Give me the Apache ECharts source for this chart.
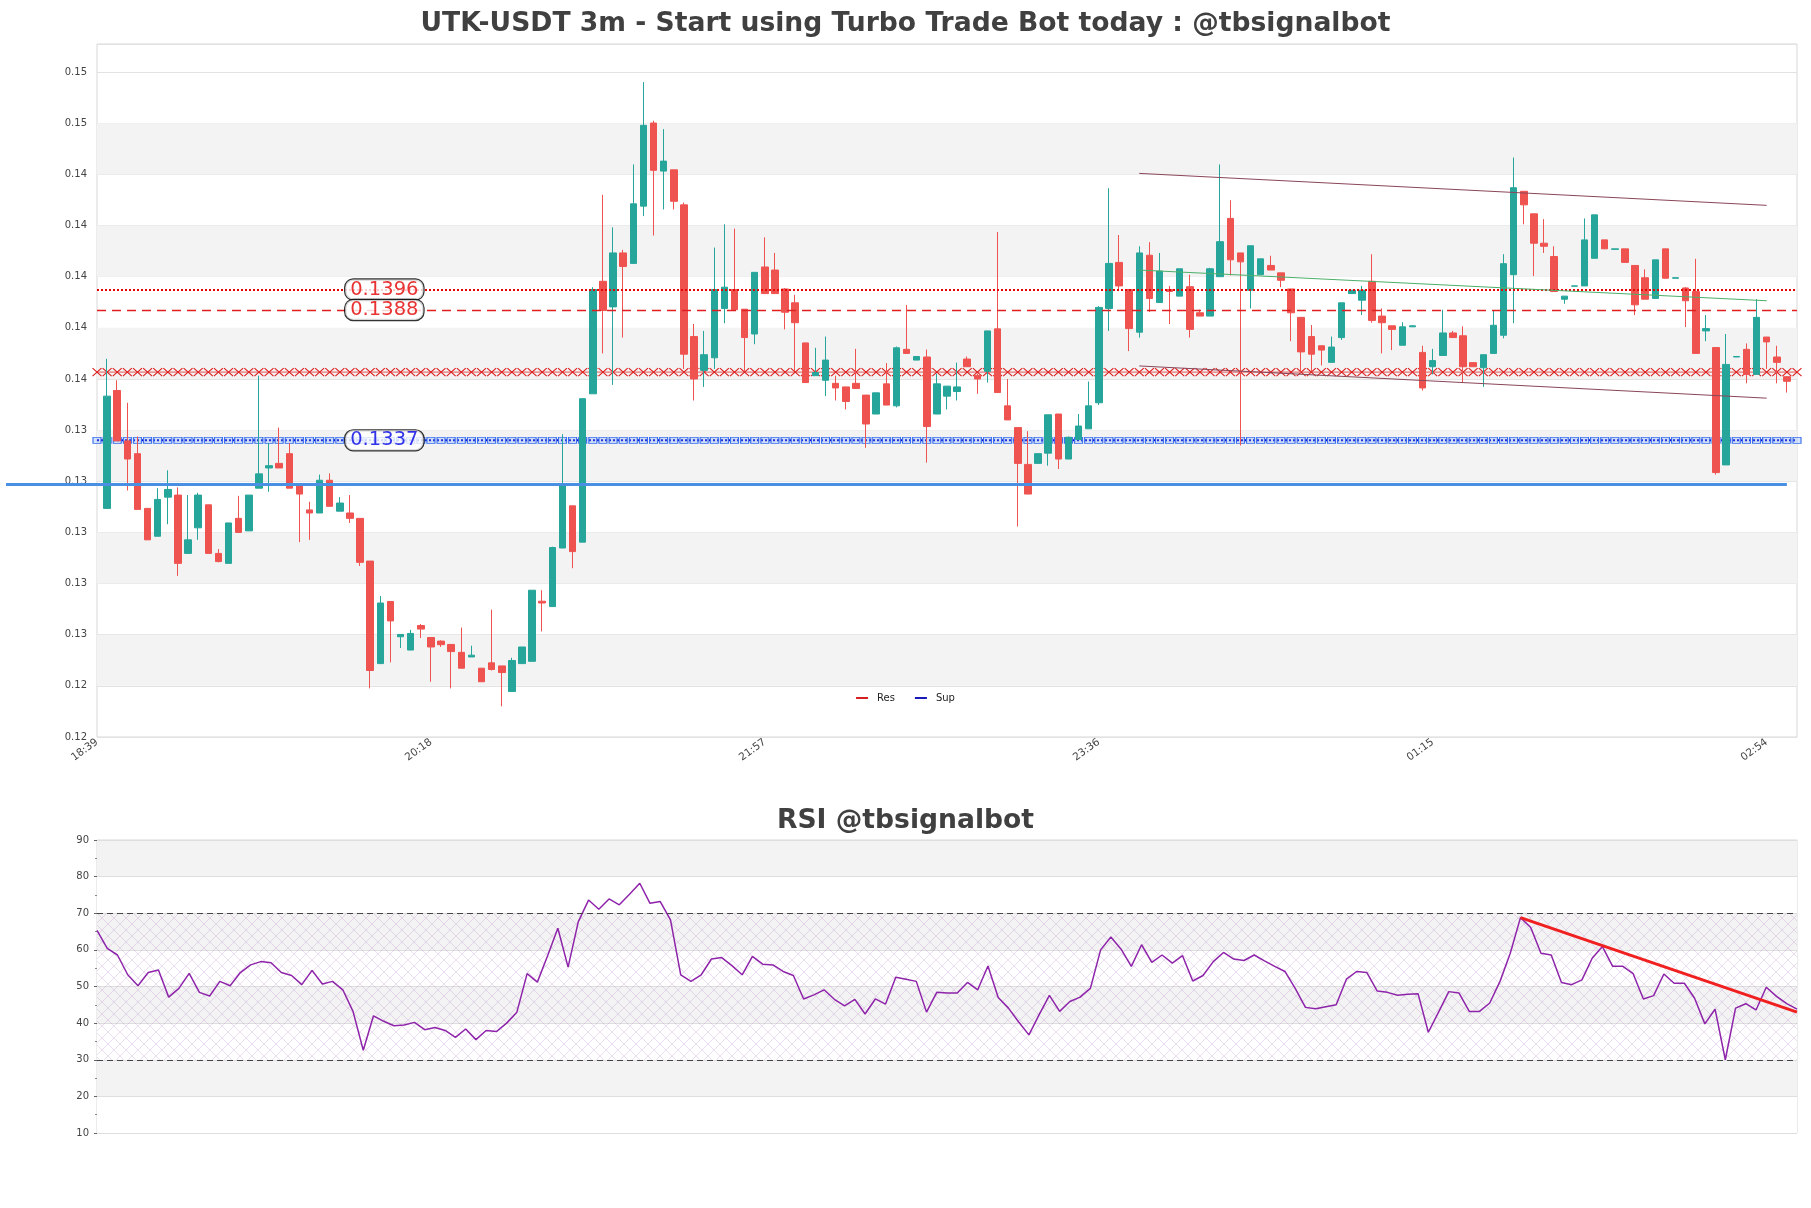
<!DOCTYPE html>
<html><head><meta charset="utf-8">
<script src="https://cdn.jsdelivr.net/npm/echarts@6/dist/echarts.min.js"></script>
<style>html,body{margin:0;padding:0;background:#fff}#c{width:1811px;height:1208px}</style>
</head><body><div id="c"></div>
<script>
// ---------- time axis (3m candles) ----------
const firstTime = '18:39';
const stepMinutes = 3;
const slotCount = 169;
const categories = Array.from({length: slotCount}, (_, k) => {
  const [h, m] = firstTime.split(':').map(Number);
  const t = (h * 60 + m + k * stepMinutes) % 1440;
  return String(Math.floor(t / 60)).padStart(2, '0') + ':' + String(t % 60).padStart(2, '0');
});

// ---------- OHLC (candle n sits on category n) ----------
const opens = [
0.13104,0.13565,0.13368,0.13318,0.13104,0.12995,0.13148,0.13156,0.12928,0.13028,
0.13118,0.12928,0.12889,0.13065,0.13016,0.13183,0.13262,0.13280,0.13318,0.13200,
0.13098,0.13086,0.13214,0.13093,0.13086,0.13065,0.12898,0.12497,0.12740,0.12602,
0.12550,0.12646,0.12599,0.12585,0.12572,0.12541,0.12523,0.12479,0.12500,0.12488,
0.12388,0.12497,0.12506,0.12741,0.12720,0.12949,0.13114,0.12972,0.13552,0.13992,
0.13892,0.14103,0.14062,0.14286,0.14611,0.14423,0.14428,0.14291,0.13776,0.13644,
0.13693,0.13886,0.13960,0.13883,0.13786,0.14048,0.14036,0.13962,0.13908,0.13751,
0.13623,0.13605,0.13593,0.13579,0.13593,0.13547,0.13473,0.13591,0.13505,0.13726,
0.13684,0.13696,0.13473,0.13543,0.13561,0.13688,0.13624,0.13640,0.13806,0.13505,
0.13420,0.13276,0.13280,0.13320,0.13473,0.13297,0.13373,0.13415,0.13517,0.13886,
0.14066,0.13960,0.13793,0.14094,0.13909,0.13960,0.13934,0.13971,0.13869,0.13856,
0.14010,0.14238,0.14103,0.13957,0.14018,0.14054,0.14025,0.13962,0.13851,0.13776,
0.13740,0.13675,0.13772,0.13944,0.13918,0.13992,0.13856,0.13818,0.13742,0.13814,
0.13714,0.13658,0.13702,0.13790,0.13779,0.13674,0.13654,0.13710,0.13781,0.14018,
0.14344,0.14256,0.14141,0.14089,0.13922,0.13973,0.13974,0.14082,0.14154,0.14117,
0.14119,0.14054,0.14006,0.13925,0.14119,0.14004,0.13966,0.13952,0.13798,0.13733,
0.13274,0.13696,0.13726,0.13628,0.13774,0.13696,0.13619];
const closes = [
0.13543,0.13368,0.13297,0.13100,0.12981,0.13139,0.13178,0.12889,0.12981,0.13156,
0.12928,0.12896,0.13047,0.13010,0.13156,0.13239,0.13271,0.13262,0.13183,0.13160,
0.13086,0.13214,0.13112,0.13125,0.13065,0.12893,0.12470,0.12734,0.12664,0.12611,
0.12615,0.12632,0.12562,0.12571,0.12544,0.12479,0.12530,0.12426,0.12474,0.12462,
0.12509,0.12562,0.12784,0.12734,0.12951,0.13195,0.12935,0.13533,0.13960,0.13878,
0.14103,0.14050,0.14295,0.14602,0.14426,0.14462,0.14305,0.13707,0.13610,0.13705,
0.13960,0.13969,0.13881,0.13772,0.14027,0.13944,0.13944,0.13871,0.13830,0.13596,
0.13635,0.13684,0.13575,0.13522,0.13573,0.13434,0.13556,0.13508,0.13732,0.13710,
0.13698,0.13424,0.13591,0.13582,0.13579,0.13658,0.13610,0.13798,0.13557,0.13450,
0.13280,0.13160,0.13318,0.13470,0.13297,0.13382,0.13426,0.13505,0.13890,0.14062,
0.13974,0.13807,0.14103,0.13925,0.14032,0.13952,0.14041,0.13804,0.13856,0.14041,
0.14147,0.14076,0.14068,0.14131,0.14080,0.14036,0.13996,0.13869,0.13716,0.13707,
0.13723,0.13735,0.13908,0.13957,0.13957,0.13839,0.13830,0.13804,0.13814,0.13818,
0.13575,0.13682,0.13790,0.13772,0.13658,0.13658,0.13705,0.13820,0.14061,0.14358,
0.14291,0.14141,0.14129,0.13952,0.13934,0.13974,0.14154,0.14252,0.14119,0.14119,
0.14066,0.13900,0.13922,0.14076,0.14004,0.14006,0.13916,0.13710,0.13807,0.13244,
0.13667,0.13698,0.13628,0.13851,0.13755,0.13675,0.13601];
const lows = [
0.13104,0.13368,0.13174,0.13100,0.12981,0.12995,0.13042,0.12840,0.12928,0.12981,
0.12928,0.12893,0.12889,0.13010,0.13016,0.13183,0.13169,0.13262,0.13183,0.12972,
0.12981,0.13086,0.13112,0.13093,0.13047,0.12879,0.12400,0.12497,0.12502,0.12558,
0.12550,0.12597,0.12426,0.12562,0.12400,0.12479,0.12523,0.12426,0.12470,0.12330,
0.12388,0.12497,0.12506,0.12623,0.12720,0.12949,0.12870,0.12972,0.13552,0.13710,
0.13587,0.13772,0.14062,0.14247,0.14171,0.14273,0.14273,0.13649,0.13526,0.13579,
0.13649,0.13828,0.13881,0.13640,0.13746,0.13944,0.13944,0.13804,0.13640,0.13596,
0.13623,0.13543,0.13526,0.13491,0.13573,0.13341,0.13473,0.13508,0.13499,0.13710,
0.13684,0.13283,0.13473,0.13491,0.13526,0.13658,0.13552,0.13596,0.13557,0.13450,
0.13033,0.13160,0.13280,0.13271,0.13258,0.13297,0.13373,0.13415,0.13508,0.13798,
0.13957,0.13719,0.13772,0.13872,0.13909,0.13825,0.13934,0.13772,0.13856,0.13856,
0.14010,0.14015,0.13350,0.13886,0.14018,0.14036,0.13969,0.13758,0.13631,0.13640,
0.13663,0.13675,0.13763,0.13944,0.13860,0.13830,0.13710,0.13723,0.13742,0.13813,
0.13565,0.13628,0.13702,0.13772,0.13596,0.13658,0.13579,0.13710,0.13769,0.13828,
0.14215,0.14013,0.14103,0.13952,0.13904,0.13973,0.13974,0.14082,0.14119,0.14117,
0.14066,0.13860,0.13922,0.13925,0.14004,0.14004,0.13813,0.13710,0.13758,0.13236,
0.13274,0.13696,0.13593,0.13628,0.13649,0.13593,0.13557];
const highs = [
0.13689,0.13605,0.13517,0.13385,0.13104,0.13183,0.13253,0.13186,0.13156,0.13165,
0.13118,0.12945,0.13047,0.13153,0.13156,0.13623,0.13359,0.13420,0.13359,0.13200,
0.13130,0.13236,0.13241,0.13148,0.13156,0.13065,0.12898,0.12761,0.12740,0.12611,
0.12629,0.12652,0.12599,0.12588,0.12572,0.12638,0.12567,0.12479,0.12708,0.12488,
0.12520,0.12562,0.12784,0.12784,0.12954,0.13394,0.13114,0.13533,0.13969,0.14330,
0.14203,0.14115,0.14449,0.14771,0.14620,0.14587,0.14428,0.14300,0.13825,0.13798,
0.14124,0.14215,0.14198,0.13883,0.14027,0.14164,0.14103,0.13966,0.13939,0.13751,
0.13732,0.13776,0.13623,0.13579,0.13728,0.13547,0.13556,0.13672,0.13737,0.13899,
0.13698,0.13725,0.13631,0.13582,0.13674,0.13698,0.13631,0.13798,0.14185,0.13610,
0.13420,0.13406,0.13318,0.13470,0.13473,0.13385,0.13473,0.13600,0.13895,0.14356,
0.14173,0.13960,0.14129,0.14145,0.14103,0.13974,0.14041,0.14018,0.13881,0.14045,
0.14449,0.14309,0.14103,0.14131,0.14080,0.14092,0.14025,0.13962,0.13851,0.13821,
0.13740,0.13776,0.13908,0.13957,0.13974,0.14098,0.13886,0.13818,0.13832,0.13821,
0.13740,0.13728,0.13881,0.13798,0.13816,0.13674,0.13705,0.13878,0.14098,0.14476,
0.14344,0.14256,0.14235,0.14129,0.13934,0.13974,0.14238,0.14252,0.14154,0.14119,
0.14119,0.14054,0.14039,0.14076,0.14119,0.14006,0.13969,0.14080,0.13860,0.13733,
0.13786,0.13698,0.13749,0.13922,0.13774,0.13740,0.13619];

// ---------- RSI (one value per candle) ----------
const rsi = [
65.3,60.4,58.6,53.2,50.2,53.8,54.5,47.1,49.5,53.6,
48.4,47.4,51.4,50.2,53.8,55.9,56.8,56.5,53.8,53.0,
50.5,54.4,50.7,51.4,49.1,43.2,32.6,42.0,40.5,39.3,
39.5,40.2,38.2,38.8,38.0,36.1,38.4,35.5,38.0,37.7,
40.0,43.0,53.5,51.2,58.4,65.9,55.3,67.7,73.6,71.1,
73.9,72.3,75.2,78.2,72.7,73.2,68.2,53.2,51.4,53.2,
57.5,57.9,55.7,53.2,58.2,56.1,55.9,54.1,53.0,46.6,
47.7,49.1,46.5,44.7,46.5,42.5,46.6,45.2,52.5,52.0,
51.4,43.0,48.4,48.2,48.2,51.1,49.1,55.6,47.0,44.1,
40.3,36.8,42.3,47.6,43.2,45.9,47.1,49.5,60.0,63.5,
60.2,55.5,61.4,56.6,58.6,56.4,58.4,51.5,53.0,56.8,
59.3,57.5,57.1,58.6,57.0,55.5,54.1,49.5,44.3,43.9,
44.5,45.0,52.0,54.1,53.8,48.8,48.4,47.6,47.9,48.0,
37.5,43.0,48.6,48.2,43.2,43.2,45.5,51.4,59.1,68.8,
66.1,59.1,58.6,51.1,50.5,51.8,57.7,60.9,55.5,55.5,
53.5,46.6,47.5,53.4,50.9,50.9,46.8,39.8,43.8,30.0,
44.1,45.3,43.6,49.8,47.3,45.3,43.8];
const rsiTimes = categories.slice(1, 1 + rsi.length);

// ---------- levels & lines ----------
const resLevel = 0.13637;
const supLevel = 0.1337;
const redDottedLevel = 0.1396;
const redDashedLevel = 0.1388;
const blueThickLevel = 0.13197;
const levelLabelValues = [0.1396, 0.1388, 0.1337];
const levelLabelColors = ['#e40000', '#e40000', '#0000e4'];
const levelLabelSlot = 28;
const upperTrend = [[103, 0.14414], [165, 0.14289]];
const lowerTrend = [[103, 0.13661], [165, 0.13535]];
const midTrend = [[103, 0.14036], [165, 0.13916]];
const rsiTrend = [[139, 68.8], [166, 43.0]];
const rsiBounds = [30, 70];

// ---------- axes ----------
const yMin = 0.1221, yMax = 0.1492, yStep = 0.002;
const grayBands = [];
for (let k = 1; yMin + (k + 1) * yStep <= yMax + 1e-9; k += 2) {
  grayBands.push([+(yMin + k * yStep).toFixed(4), +(yMin + (k + 1) * yStep).toFixed(4)]);
}

const candleData = categories.map((_, i) =>
  (i >= 1 && i <= opens.length) ? [opens[i-1], closes[i-1], lows[i-1], highs[i-1]] : '-');

function hatchCanvas() {
  const c = document.createElement('canvas');
  c.width = 12; c.height = 12;
  const g = c.getContext('2d');
  g.strokeStyle = 'rgba(175,120,195,0.32)';
  g.lineWidth = 0.8;
  g.beginPath();
  g.moveTo(0, 0); g.lineTo(12, 12);
  g.moveTo(12, 0); g.lineTo(0, 12);
  g.stroke();
  return c;
}

const chart = echarts.init(document.getElementById('c'), null, {renderer: 'canvas'});
const ff = 'DejaVu Sans';
const titleStyle = {fontSize: 26.6, fontWeight: 'bold', color: '#404040', fontFamily: ff};

chart.setOption({
  animation: false,
  backgroundColor: '#ffffff',
  textStyle: {fontFamily: ff},
  title: [
    {text: 'UTK-USDT 3m - Start using Turbo Trade Bot today : @tbsignalbot', left: 'center', top: 11, padding: 0, textStyle: titleStyle},
    {text: 'RSI @tbsignalbot', left: 'center', top: 808, padding: 0, textStyle: titleStyle}
  ],
  legend: {
    data: [
      {name: 'Res', icon: 'rect', itemStyle: {color: '#d62020', borderWidth: 0}},
      {name: 'Sup', icon: 'rect', itemStyle: {color: '#1a1ab8', borderWidth: 0}}
    ],
    left: 'center', top: 688, itemWidth: 12, itemHeight: 2, itemGap: 20,
    textStyle: {fontSize: 10, color: '#222', fontFamily: ff, padding: [0, 0, 0, 4]}
  },
  grid: [
    {left: 97, top: 44, width: 1700, height: 693, show: true, borderColor: '#d8d8d8', borderWidth: 1, backgroundColor: 'transparent'},
    {left: 97, top: 840, width: 1700, height: 293, show: true, borderColor: '#d8d8d8', borderWidth: 1, backgroundColor: 'transparent'}
  ],
  xAxis: [
    {type: 'category', gridIndex: 0, data: categories, boundaryGap: false,
     axisLine: {show: false}, axisTick: {show: false}, splitLine: {show: false},
     axisLabel: {interval: 32, rotate: 36, fontSize: 10.5, color: '#444', margin: 4}},
    {type: 'category', gridIndex: 1, data: rsiTimes, boundaryGap: false,
     axisLine: {show: false}, axisTick: {show: false}, axisLabel: {show: false}, splitLine: {show: false}}
  ],
  yAxis: [
    {type: 'value', gridIndex: 0, min: yMin, max: yMax, interval: yStep, z: 1,
     axisLine: {show: false}, axisTick: {show: false},
     axisLabel: {formatter: v => v.toFixed(2), fontSize: 10, color: '#444', margin: 10, showMaxLabel: false},
     splitLine: {lineStyle: {color: '#e2e2e2', width: 1}}},
    {type: 'value', gridIndex: 1, min: 10, max: 90, interval: 10,
     axisLine: {show: false},
     axisTick: {show: true, length: 3, lineStyle: {color: '#666'}},
     minorTick: {show: true, splitNumber: 2, length: 2, lineStyle: {color: '#888'}},
     axisLabel: {fontSize: 10, color: '#444', margin: 8},
     splitLine: {lineStyle: {color: '#dedede', width: 1}},
     splitArea: {show: true, areaStyle: {color: ['#ffffff', '#f3f3f3']}}}
  ],
  series: [
    {name: 'bands', type: 'line', xAxisIndex: 0, yAxisIndex: 0, z: 0, silent: true,
     data: categories.map(() => null), showSymbol: false, lineStyle: {width: 0},
     markArea: {silent: true, itemStyle: {color: '#f3f3f3'},
       data: grayBands.map(b => [{yAxis: b[0]}, {yAxis: b[1]}])}},
    {name: 'Res', type: 'line', xAxisIndex: 0, yAxisIndex: 0, z: 3, silent: true,
     data: categories.map(() => resLevel),
     showSymbol: true, showAllSymbol: true,
     symbol: 'path://M0,0L10,10M10,0L0,10', symbolSize: [9, 8],
     itemStyle: {color: '#dd1c1c', borderColor: '#dd1c1c', borderWidth: 1},
     lineStyle: {color: '#e03030', width: 0.8},
     markLine: {silent: true, precision: 6, symbol: ['none', 'none'], label: {show: false},
       data: [
         {yAxis: redDottedLevel, lineStyle: {color: '#e80000', width: 2.2, type: [2, 2]}},
         {yAxis: redDashedLevel, lineStyle: {color: '#e02020', width: 1.4, type: [9, 6]}},
         [{coord: upperTrend[0]}, {coord: upperTrend[1], lineStyle: {color: '#8a4658', width: 1, type: 'solid'}}],
         [{coord: lowerTrend[0]}, {coord: lowerTrend[1], lineStyle: {color: '#8a4658', width: 1, type: 'solid'}}],
         [{coord: midTrend[0]}, {coord: midTrend[1], lineStyle: {color: '#4caf6a', width: 1, type: 'solid'}}]
       ]}},
    {name: 'Sup', type: 'line', xAxisIndex: 0, yAxisIndex: 0, z: 3, silent: true,
     data: categories.map(() => supLevel),
     showSymbol: true, showAllSymbol: true,
     symbol: 'rect', symbolSize: [8, 6],
     itemStyle: {color: 'rgba(120,170,255,0.3)', borderColor: '#3a6ff0', borderWidth: 1},
     lineStyle: {color: '#0000c8', width: 2, type: [2, 2]}},
    {name: 'price', type: 'candlestick', xAxisIndex: 0, yAxisIndex: 0, z: 4,
     data: candleData, barWidth: 7,
     itemStyle: {color: '#26a69a', color0: '#ef5350', borderColor: '#26a69a', borderColor0: '#ef5350', borderWidth: 1}},
    {name: 'levels', type: 'scatter', xAxisIndex: 0, yAxisIndex: 0, z: 6, silent: true,
     symbolSize: 0,
     data: levelLabelValues.map((v, i) => ({value: [levelLabelSlot, v], label: {color: levelLabelColors[i]}})),
     label: {show: true, position: 'inside', offset: [4, 0],
       formatter: p => p.value[1].toFixed(4),
       fontSize: 19.5, fontFamily: ff, backgroundColor: '#ffffff', borderColor: '#000', borderWidth: 1.2,
       borderRadius: 8, padding: [1, 5, 0, 5], lineHeight: 19}},
    {name: 'rsiZone', type: 'line', xAxisIndex: 1, yAxisIndex: 1, z: 1, silent: true,
     data: rsiTimes.map(() => null), showSymbol: false, lineStyle: {width: 0},
     markArea: {silent: true, itemStyle: {color: {image: hatchCanvas(), repeat: 'repeat'}},
       data: [[{yAxis: rsiBounds[0]}, {yAxis: rsiBounds[1]}]]},
     markLine: {silent: true, symbol: ['none', 'none'], label: {show: false},
       lineStyle: {color: '#444', width: 1.2, type: [6, 4]},
       data: [{yAxis: rsiBounds[0]}, {yAxis: rsiBounds[1]}]}},
    {name: 'RSI', type: 'line', xAxisIndex: 1, yAxisIndex: 1, z: 3, silent: true,
     data: rsi, showSymbol: false,
     lineStyle: {color: '#8e24aa', width: 1.5},
     markLine: {silent: true, precision: 4, symbol: ['none', 'none'], label: {show: false},
       data: [[{coord: rsiTrend[0]}, {coord: rsiTrend[1]}]],
       lineStyle: {color: '#f02020', width: 3, type: 'solid'}}}
  ]
});

// thick light-blue level line, positioned through the chart's own scales
const yPix = chart.convertToPixel({yAxisIndex: 0}, blueThickLevel);
const xEnd = chart.convertToPixel({xAxisIndex: 0}, opens.length);
chart.setOption({
  graphic: [{type: 'line', z: 10, silent: true,
    shape: {x1: 6, y1: yPix, x2: xEnd, y2: yPix},
    style: {stroke: '#4a90e2', lineWidth: 3}}]
});
</script>
</body></html>
